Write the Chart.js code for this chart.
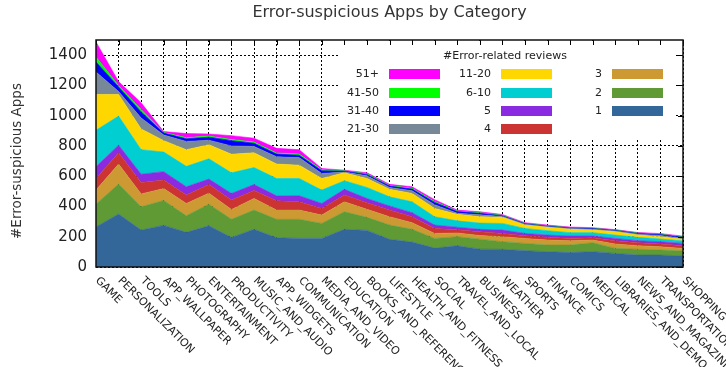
<!DOCTYPE html>
<html>
<head>
<meta charset="utf-8">
<script src="https://cdn.jsdelivr.net/npm/chart.js@4"></script>
<style>
  html, body { margin: 0; padding: 0; background: #fff; }
  #wrap { width: 726px; height: 367px; }
</style>
</head>
<body>
<div id="wrap"><canvas id="c" width="726" height="367"></canvas></div>
<script>
// categories, left to right
const categories = ['GAME', 'PERSONALIZATION', 'TOOLS', 'APP_WALLPAPER', 'PHOTOGRAPHY', 'ENTERTAINMENT',
  'PRODUCTIVITY', 'MUSIC_AND_AUDIO', 'APP_WIDGETS', 'COMMUNICATION', 'MEDIA_AND_VIDEO', 'EDUCATION',
  'BOOKS_AND_REFERENCE', 'LIFESTYLE', 'HEALTH_AND_FITNESS', 'SOCIAL', 'TRAVEL_AND_LOCAL', 'BUSINESS',
  'WEATHER', 'SPORTS', 'FINANCE', 'COMICS', 'MEDICAL', 'LIBRARIES_AND_DEMO', 'NEWS_AND_MAGAZINES',
  'TRANSPORTATION', 'SHOPPING'];

// apps per number of error-related reviews (stacked, bottom first)
const r1      = [265, 350, 244, 275, 229, 272, 195, 249, 193, 189, 189, 249, 242, 183, 165, 125, 140, 118, 117, 108, 101, 95, 101, 90, 79, 79, 73];
const r2      = [150, 198, 154, 165, 109, 143, 120, 127, 122, 126, 99, 116, 86, 94, 84, 64, 60, 66, 50, 48, 44, 50, 59, 33, 38, 33, 33];
const r3      = [93, 132, 85, 78, 82, 73, 65, 77, 61, 61, 55, 66, 53, 55, 44, 33, 25, 24, 33, 33, 33, 29, 18, 29, 24, 22, 17];
const r4      = [77, 75, 75, 57, 55, 57, 62, 53, 61, 55, 44, 44, 44, 44, 39, 33, 21, 25, 22, 18, 18, 15, 16, 22, 20, 18, 18];
const r5      = [77, 50, 55, 55, 55, 36, 44, 39, 33, 40, 33, 38, 28, 27, 27, 22, 17, 16, 22, 15, 15, 16, 11, 15, 13, 15, 15];
const r6to10  = [242, 192, 162, 130, 135, 134, 136, 112, 115, 114, 88, 57, 73, 61, 72, 55, 42, 41, 44, 33, 29, 22, 22, 22, 22, 18, 16];
const r11to20 = [236, 143, 137, 75, 110, 93, 123, 98, 95, 88, 77, 53, 59, 49, 55, 55, 43, 42, 40, 22, 22, 22, 17, 22, 15, 15, 11];
const r21to30 = [149, 20, 73, 37, 55, 30, 55, 42, 48, 50, 33, 5, 18, 13, 18, 25, 8, 13, 6, 5, 4, 5, 6, 5, 6, 8, 7];
const r31to40 = [66, 30, 40, 13, 17, 20, 35, 21, 18, 16, 18, 6, 9, 9, 11, 15, 10, 10, 5, 4, 4, 4, 4, 4, 5, 6, 6];
const r41to50 = [33, 10, 15, 4, 8, 8, 8, 8, 8, 8, 6, 2, 4, 4, 5, 6, 4, 4, 3, 2, 2, 2, 2, 2, 2, 3, 4];
const r51plus = [99, 25, 45, 6, 27, 13, 25, 25, 30, 28, 9, 4, 7, 7, 10, 12, 6, 6, 5, 5, 5, 4, 4, 3, 4, 4, 4];

const yTicks = [0, 200, 400, 600, 800, 1000, 1200, 1400];

const FONT = 'DejaVu Sans';
const TEXT = '#222';

// series in drawing order (bottom -> top)
const seriesDefs = [
  { label: '1',     data: r1,      color: '#336699' },
  { label: '2',     data: r2,      color: '#5f9a35' },
  { label: '3',     data: r3,      color: '#cc9933' },
  { label: '4',     data: r4,      color: '#cc3333' },
  { label: '5',     data: r5,      color: '#8a2be2' },
  { label: '6-10',  data: r6to10,  color: '#00ced1' },
  { label: '11-20', data: r11to20, color: '#ffd700' },
  { label: '21-30', data: r21to30, color: '#778899' },
  { label: '31-40', data: r31to40, color: '#0000ff' },
  { label: '41-50', data: r41to50, color: '#00ff00' },
  { label: '51+',   data: r51plus, color: '#ff00ff' }
];

// legend grid (column-major like the original)
const legendCols = [
  ['51+', '41-50', '31-40', '21-30'],
  ['11-20', '6-10', '5', '4'],
  ['3', '2', '1']
];

const datasets = seriesDefs.map(function(s, i) {
  return {
    label: s.label,
    data: s.data,
    backgroundColor: s.color,
    borderColor: s.color,
    borderWidth: 0.6,
    pointRadius: 0,
    tension: 0,
    fill: i === 0 ? 'origin' : '-1'
  };
});

// ------------------------------------------------------------
// extra drawing: frame, tics, legend, labels, titles
// ------------------------------------------------------------
const decorations = {
  id: 'decorations',
  afterDatasetsDraw: function(chart) {
    const ctx = chart.ctx;
    const a = chart.chartArea;
    const xs = chart.scales.x;
    const ys = chart.scales.y;

    // legend box
    ctx.save();
    ctx.fillStyle = '#fff';
    ctx.fillRect(338, a.top + 1, 336, 99);
    ctx.font = '11px ' + FONT;
    ctx.fillStyle = TEXT;
    ctx.textAlign = 'center';
    ctx.textBaseline = 'middle';
    ctx.fillText('#Error-related reviews', 505, 56);
    const colSwatch = [389, 501, 612];
    const rowY = [74, 93, 111, 129];
    legendCols.forEach(function(col, ci) {
      col.forEach(function(lbl, ri) {
        const def = seriesDefs.find(function(s) { return s.label === lbl; });
        ctx.fillStyle = TEXT;
        ctx.textAlign = 'right';
        ctx.fillText(lbl, colSwatch[ci] - 10, rowY[ri]);
        ctx.fillStyle = def.color;
        ctx.fillRect(colSwatch[ci], rowY[ri] - 5, 51, 10);
      });
    });
    ctx.restore();

    // tics on top and right border
    ctx.save();
    ctx.strokeStyle = '#000';
    ctx.lineWidth = 1;
    ctx.beginPath();
    categories.forEach(function(c, i) {
      const x = Math.round(xs.getPixelForValue(i)) + 0.5;
      ctx.moveTo(x, a.top);
      ctx.lineTo(x, a.top + 5);
    });
    yTicks.forEach(function(v) {
      const y = Math.round(ys.getPixelForValue(v)) + 0.5;
      ctx.moveTo(a.right, y);
      ctx.lineTo(a.right - 5, y);
    });
    ctx.stroke();

    // frame
    ctx.lineWidth = 1.5;
    ctx.strokeStyle = '#111';
    ctx.strokeRect(a.left, a.top, a.right - a.left, a.bottom - a.top);
    ctx.restore();
  },
  afterDraw: function(chart) {
    const ctx = chart.ctx;
    const a = chart.chartArea;
    const xs = chart.scales.x;

    ctx.save();
    ctx.fillStyle = '#333';

    // title
    ctx.font = '16px ' + FONT;
    ctx.textAlign = 'center';
    ctx.textBaseline = 'middle';
    ctx.fillText('Error-suspicious Apps by Category', (a.left + a.right) / 2, 13);

    // y axis title
    ctx.save();
    ctx.translate(17, 161);
    ctx.rotate(-Math.PI / 2);
    ctx.font = '13.5px ' + FONT;
    ctx.fillText('#Error-suspicious Apps', 0, 0);
    ctx.restore();

    // category labels, slanted down to the right
    ctx.fillStyle = TEXT;
    ctx.font = '11px ' + FONT;
    ctx.textAlign = 'left';
    ctx.textBaseline = 'middle';
    categories.forEach(function(c, i) {
      const x = xs.getPixelForValue(i);
      ctx.save();
      ctx.translate(x + 1, a.bottom + 12);
      ctx.rotate(Math.PI / 4);
      ctx.fillText(c, 0, 0);
      ctx.restore();
    });
    ctx.restore();
  }
};

new Chart(document.getElementById('c'), {
  type: 'line',
  data: { labels: categories, datasets: datasets },
  options: {
    responsive: false,
    animation: false,
    layout: { padding: { top: 40, right: 43, bottom: 100, left: 0 } },
    plugins: {
      legend: { display: false },
      title: { display: false },
      tooltip: { enabled: false }
    },
    scales: {
      x: {
        offset: false,
        grid: { color: '#000', lineWidth: 1, drawTicks: false },
        border: { display: false, dash: [2, 2] },
        ticks: { display: false }
      },
      y: {
        stacked: true,
        min: 0,
        max: 1500,
        afterBuildTicks: function(scale) {
          scale.ticks = yTicks.map(function(v) { return { value: v }; });
        },
        afterFit: function(scale) { scale.width = 96; },
        grid: { color: '#000', lineWidth: 1, drawTicks: false },
        border: { display: false, dash: [2, 2] },
        ticks: {
          font: { family: FONT, size: 15 },
          color: TEXT,
          padding: 9,
          callback: function(v) { return String(v); }
        }
      }
    }
  },
  plugins: [decorations]
});
</script>
</body>
</html>
